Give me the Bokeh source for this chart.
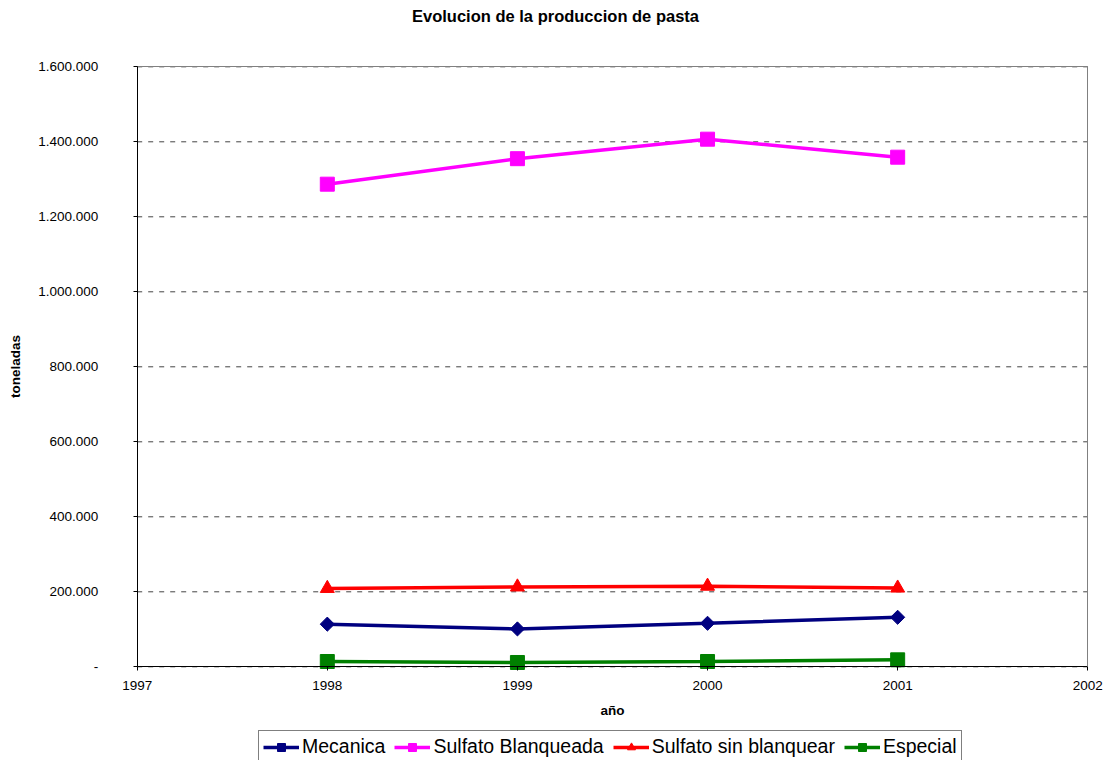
import math

from bokeh.plotting import figure
from bokeh.models import Range1d, FixedTicker, Legend, LegendItem, LinearAxis, Label
from bokeh.embed import file_html
from bokeh.resources import INLINE

# Pulp production by type, in tonnes
years = [1998, 1999, 2000, 2001]
mecanica = [113700, 101000, 116000, 132000]
sulfato_blanqueada = [1287000, 1355000, 1407000, 1359000]
sulfato_sin_blanquear = [209000, 213000, 215000, 210000]
especial = [14100, 11500, 14100, 18600]

x_ticks = [1997, 1998, 1999, 2000, 2001, 2002]
y_ticks = [0, 200000, 400000, 600000, 800000, 1000000, 1200000, 1400000, 1600000]
y_tick_labels = ["-", "200.000", "400.000", "600.000", "800.000",
                 "1.000.000", "1.200.000", "1.400.000", "1.600.000"]

FONT = "Liberation Sans"
X_MIN, X_MAX = x_ticks[0], x_ticks[-1]
Y_MAX = y_ticks[-1]
# The frame covers the whole canvas: the margins around the plotted box
# hold the title, the axes, their labels and the legend.
X_VIEW = (1996.281, 2002.109)
Y_VIEW = (-249867, 1776800)

p = figure(
    width=1108, height=760,
    output_backend="svg", toolbar_location=None, title_location=None,
    x_range=Range1d(*X_VIEW), y_range=Range1d(*Y_VIEW),
    min_border_left=0, min_border_right=0,
    min_border_top=0, min_border_bottom=0,
    background_fill_color="white", border_fill_color="white",
)
p.outline_line_color = None
p.xgrid.visible = False
p.ygrid.visible = False

xa = p.xaxis[0]
ya = p.yaxis[0]

# Main axes
for ax in (xa, ya):
    ax.axis_line_color = "black"
    ax.axis_line_width = 1
    ax.major_tick_line_color = "black"
    ax.major_tick_out = 4
    ax.major_tick_in = 0
    ax.minor_tick_line_color = None
    ax.major_label_text_font = FONT
    ax.major_label_text_font_size = "13.5px"
    ax.major_label_text_color = "black"
    ax.axis_label_text_font = FONT
    ax.axis_label_text_font_style = "bold"
    ax.axis_label_text_font_size = "13.5px"
    ax.axis_label_text_color = "black"

xa.ticker = FixedTicker(ticks=x_ticks)
xa.fixed_location = 0
xa.bounds = (X_MIN, X_MAX)
xa.major_label_standoff = 10
xa.axis_label = "año"
xa.axis_label_standoff = 10

ya.ticker = FixedTicker(ticks=y_ticks)
ya.fixed_location = X_MIN
ya.bounds = (0, Y_MAX)
ya.major_label_overrides = {t: lab for t, lab in zip(y_ticks, y_tick_labels)}
ya.major_label_standoff = 35
ya.axis_label = "toneladas"
ya.axis_label_standoff = 12

# Plot-area border on the top and right sides
edge_style = dict(ticker=FixedTicker(ticks=[]), axis_line_color="#808080",
                  major_tick_out=0, major_tick_in=0, minor_tick_line_color=None,
                  major_label_standoff=0, axis_label_standoff=0,
                  major_label_text_font_size="0px")
p.add_layout(LinearAxis(bounds=(X_MIN, X_MAX), fixed_location=Y_MAX, **edge_style), "above")
p.add_layout(LinearAxis(bounds=(0, Y_MAX), fixed_location=X_MAX, **edge_style), "right")

# Chart title near the top edge (screen offsets from the frame's bottom-left)
p.add_layout(Label(
    x=555, y=745, x_units="screen", y_units="screen",
    text="Evolucion de la produccion de pasta",
    text_font=FONT, text_font_style="bold", text_font_size="16.5px",
    text_align="center", text_baseline="middle", text_color="black",
))

# Dashed horizontal gridlines across the plotted box
p.segment(x0=X_MIN, x1=X_MAX, y0=y_ticks, y1=y_ticks,
          line_color="#444444", line_width=1, line_dash="5 6")

# Series
series = [
    ("Mecanica", mecanica, "#000080", "square", math.pi / 4, 10),
    ("Sulfato Blanqueada", sulfato_blanqueada, "#FF00FF", "square", 0, 14),
    ("Sulfato sin blanquear", sulfato_sin_blanquear, "#FF0000", "triangle", 0, 14),
    ("Especial", especial, "#008000", "square", 0, 14),
]

items = []
for name, vals, color, marker, angle, size in series:
    ln = p.line(years, vals, line_color=color, line_width=3.5)
    sc = p.scatter(years, vals, marker=marker, size=size, angle=angle,
                   fill_color=color, line_color=color)
    items.append(LegendItem(label=name, renderers=[ln, sc]))

legend = Legend(
    items=items,
    orientation="horizontal",
    location=(258, -3),
    label_text_font=FONT,
    label_text_font_size="19.5px",
    label_text_color="black",
    label_standoff=3,
    label_height=20,
    glyph_width=36,
    glyph_height=20,
    spacing=9,
    padding=4,
    margin=0,
    border_line_color="black",
    border_line_width=1,
    background_fill_color="white",
    background_fill_alpha=1,
)
p.add_layout(legend, "center")

open("out.html", "w").write(file_html(p, INLINE))
